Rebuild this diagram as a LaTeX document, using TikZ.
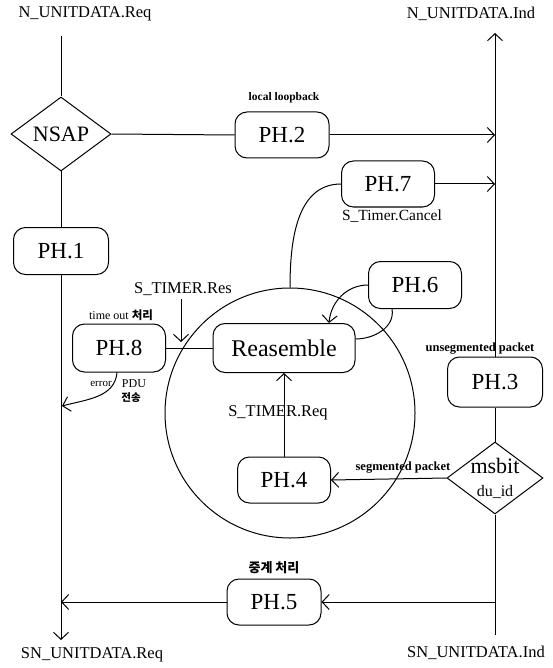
\documentclass[tikz,border=0pt]{standalone}
\usepackage{fontspec}
\setmainfont{Liberation Serif}
\newfontfamily\kr{Noto Sans CJK KR}
\usetikzlibrary{shapes.geometric,arrows.meta}
\begin{document}
\begin{tikzpicture}[x=1pt,y=-1pt,line width=1pt,
  box/.style={draw,rounded corners=12pt,inner sep=0pt,font=\fontsize{23}{25}\selectfont},
  dia/.style={draw,diamond,inner sep=0pt},
  arr/.style={-{Straight Barb[length=7pt,width=15pt,line width=1pt]}},
  big/.style={font=\fontsize{16.5}{18}\selectfont},
  small/.style={font=\fontsize{12}{13}\selectfont\bfseries},
  krs/.style={font=\fontsize{10.5}{12}\selectfont\kr\bfseries}]
\useasboundingbox (0,0) rectangle (552,668);

% circle
\node[draw,circle,minimum size=250pt,inner sep=0pt] (circ) at (290,413) {};

% boxes
\node[box,minimum width=95pt,minimum height=47pt] (ph1) at (61,251) {PH.1};
\node[box,minimum width=94pt,minimum height=46pt] (ph2) at (282,135) {PH.2};
\node[box,minimum width=93pt,minimum height=46pt] (ph7) at (388,184) {PH.7};
\node[box,minimum width=93pt,minimum height=47pt] (ph6) at (415,285) {PH.6};
\node[box,minimum width=93pt,minimum height=48pt] (ph8) at (119,348) {PH.8};
\node[box,minimum width=142pt,minimum height=49pt,font=\fontsize{24}{26}\selectfont] (reas) at (284,348) {Reasemble};
\node[box,minimum width=95pt,minimum height=50pt] (ph3) at (495,382) {PH.3};
\node[box,minimum width=93pt,minimum height=46pt] (ph4) at (284,480) {PH.4};
\node[box,minimum width=94pt,minimum height=46pt] (ph5) at (274,602) {PH.5};

% diamonds
\node[dia,minimum width=100pt,minimum height=74pt,font=\fontsize{22}{24}\selectfont] (nsap) at (61,134) {NSAP};
\node[dia,minimum width=96pt,minimum height=72pt] (msbit) at (495,478) {};
\node[font=\fontsize{22}{24}\selectfont] (msb) at (495,466) {msbit};
\node[font=\fontsize{16}{18}\selectfont] (duid) at (495,492) {du\_id};

% end labels
\node[big] (lt) at (85,14) {N\_UNITDATA.Req};
\node[big] (rt) at (471,14) {N\_UNITDATA.Ind};
\node[big] (lb) at (92,655) {SN\_UNITDATA.Req};
\node[big] (rb) at (476,653) {SN\_UNITDATA.Ind};

\coordinate (Ltop) at (61,36);
\coordinate (Lbot) at (61,640);
\coordinate (Rtop) at (495,33);
\coordinate (Rbot) at (495,635);

% main lines
\draw (Ltop) -- (nsap.north);
\draw (nsap.south) -- (ph1.north);
\draw[arr] (ph1.south) -- (Lbot);
\draw (nsap.east) -- (ph2.west);
\draw[arr] (ph2.east) -- (ph2.east -| Rtop);
\draw[arr] (ph3.north) -- (Rtop);
\draw (ph3.south) -- (msbit.north);
\draw (msbit.south) -- (Rbot);
\draw[arr] (ph7.east) -- (ph7.east -| Rtop);
\draw[arr] (msbit.west) -- (ph4.east);
\draw[arr] (ph4.north) -- (reas.south);
\draw[arr] (ph5.east -| Rbot) -- (ph5.east);
\draw[arr] (ph5.west) -- (ph5.west -| Lbot);
\draw (ph8.east) -- (reas.west);

% S_TIMER.Res
\node[big] (tres) at (183,289) {S\_TIMER.Res};
\coordinate (tresend) at (181,342);
\draw[arr] (tres.south -| tresend) -- (tresend);

% S_TIMER.Req label
\node[big] (treq) at (278,413) {S\_TIMER.Req};

% error PDU curve
\coordinate (errend) at (62,406);
\draw[arr] ([xshift=-2pt]ph8.south) to[out=-95,in=15] (errend);
\node[font=\fontsize{11}{12}\selectfont] (errl) at (101,384) {error};
\node[font=\fontsize{12}{13}\selectfont] (pdul) at (134,384) {PDU};
\node[krs] (jeon) at (131,398) {전송};

% PH.7 curve to circle top
\draw (ph7.west) to[out=180,in=90] (circ.north);
\node[font=\fontsize{15.5}{17}\selectfont] (cancel) at (392,216) {S\_Timer.Cancel};

% PH.6 <-> Reasemble
\coordinate (reastop) at (329,323);
\draw[arr] (ph6.west) to[out=180,in=85] (reastop);
\draw ([yshift=9pt]reas.east) to[out=0,in=-80] ([xshift=-23pt]ph6.south);

% small labels
\node[small,font=\fontsize{11.5}{13}\selectfont\bfseries] (loop) at (284,98) {local loopback};
\node[small,font=\fontsize{12.5}{13}\selectfont\bfseries] (unseg) at (480,349) {unsegmented packet};
\node[small,font=\fontsize{12.5}{13}\selectfont\bfseries] (seg) at (403,468) {segmented packet};
\node (tout) at (121,315) {\fontsize{12}{13}\selectfont time out {\kr\bfseries\fontsize{11.5}{13}\selectfont 처리}};
\node[krs,font=\fontsize{13}{14}\selectfont\kr\bfseries] (relay) at (274,568) {중계 처리};
\end{tikzpicture}
\end{document}
